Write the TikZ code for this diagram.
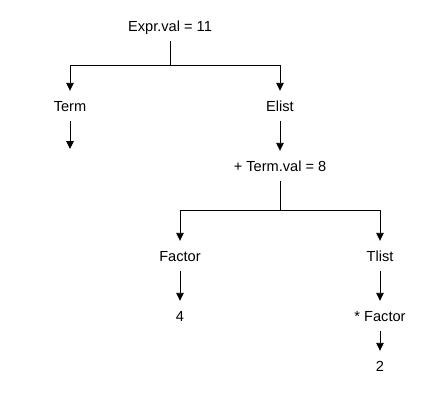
\documentclass[tikz,border=0pt]{standalone}
\usepackage{fontspec}
\setmainfont{Liberation Sans}
\usetikzlibrary{arrows.meta}
\begin{document}
\begin{tikzpicture}[x=1pt,y=-1pt,
  lbl/.style={inner sep=0pt,minimum height=30pt,font=\fontsize{14.6}{16}\selectfont,text height=10.5pt,text depth=0pt},
  arr/.style={line width=0.9pt,-{Triangle[length=8pt,width=7.5pt]}},
  ln/.style={line width=0.9pt}]
\useasboundingbox (0,0) rectangle (441,392);
\node[lbl] (expr) at (170,26) {Expr.val = 11};
\node[lbl] (term) at (70,106) {Term};
\node[lbl] (elist) at (280,106) {Elist};
\node[lbl] (plus) at (280,166) {+ Term.val = 8};
\node[lbl] (factor) at (180,256) {Factor};
\node[lbl] (tlist) at (380,256) {Tlist};
\node[lbl] (four) at (180,316) {4};
\node[lbl] (sfactor) at (380,316) {* Factor};
\node[lbl] (two) at (380,366) {2};
\coordinate (e1) at (170,65);
\coordinate (e2) at (280,210);
\coordinate (tend) at (70,149);
\draw[arr] (expr.south) -- (e1) -| (term.north);
\draw[arr] (e1) -| (elist.north);
\draw[arr] (term.south) -- (tend);
\draw[arr] (elist.south) -- (plus.north);
\draw[arr] (plus.south) -- (e2) -| (factor.north);
\draw[arr] (e2) -| (tlist.north);
\draw[arr] (factor.south) -- (four.north);
\draw[arr] (tlist.south) -- (sfactor.north);
\draw[arr] (sfactor.south) -- (two.north);
\end{tikzpicture}
\end{document}
